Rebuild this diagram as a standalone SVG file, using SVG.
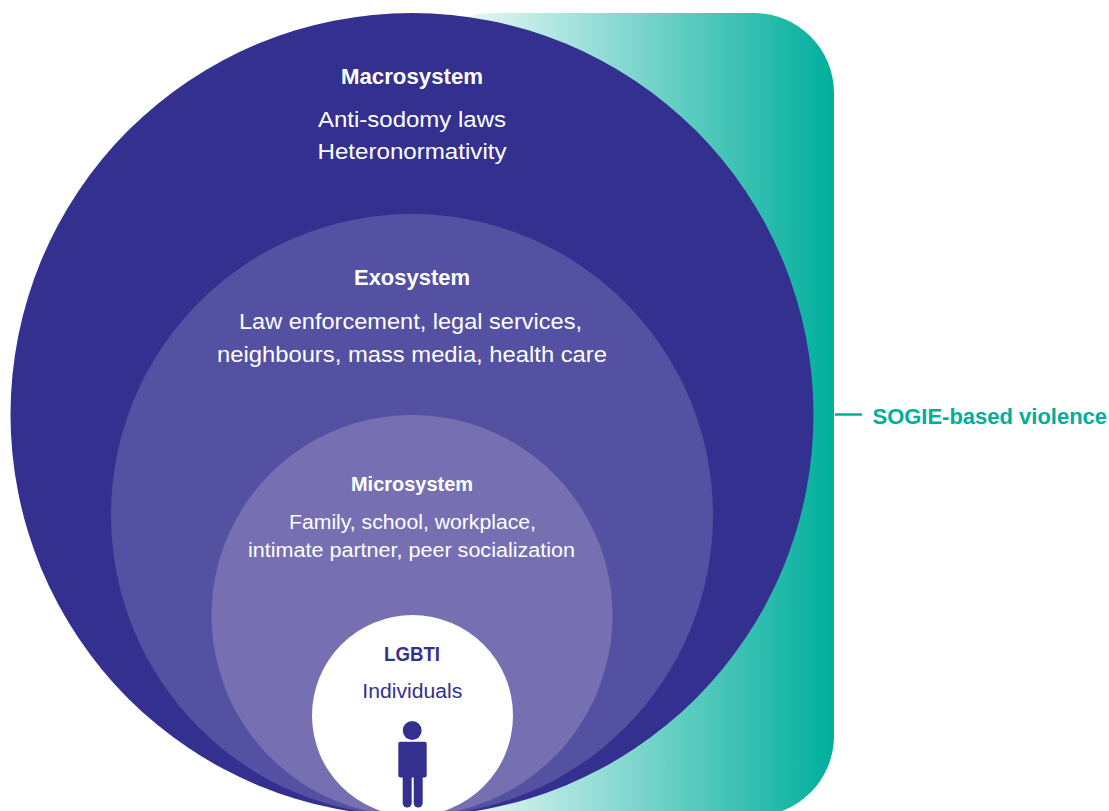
<svg xmlns="http://www.w3.org/2000/svg" width="1109" height="811" viewBox="0 0 1109 811">
  <defs>
    <linearGradient id="teal" gradientUnits="userSpaceOnUse" x1="430" y1="0" x2="834" y2="0">
      <stop offset="0" stop-color="#ffffff"/>
      <stop offset="1" stop-color="#00ae9c"/>
    </linearGradient>
  </defs>
  <style>
    .t { font-family: "Liberation Sans", Arial, sans-serif; text-anchor: middle; }
    .h { font-weight: bold; font-size: 22px; fill: #ffffff; }
    .b { font-size: 22px; fill: #ffffff; }
    .hs { font-weight: bold; font-size: 20px; fill: #ffffff; }
    .bs { font-size: 20px; fill: #ffffff; }
    .dark { fill: #33308f; }
  </style>
  <rect x="0" y="0" width="1109" height="811" fill="#ffffff"/>

  <g id="sogie-band">
    <rect x="412" y="13" width="422" height="803" rx="80" ry="80" fill="url(#teal)"/>
  </g>

  <g id="macrosystem">
    <circle cx="412" cy="414.5" r="401.5" fill="#33308f"/>
    <text class="t h" x="412" y="84" textLength="142" lengthAdjust="spacingAndGlyphs">Macrosystem</text>
    <text class="t b" x="412" y="127" textLength="188" lengthAdjust="spacingAndGlyphs">Anti-sodomy laws</text>
    <text class="t b" x="412" y="158.5" textLength="189" lengthAdjust="spacingAndGlyphs">Heteronormativity</text>
  </g>

  <g id="exosystem">
    <circle cx="412" cy="515" r="301" fill="#5450a2"/>
    <text class="t h" x="412" y="285" textLength="116" lengthAdjust="spacingAndGlyphs">Exosystem</text>
    <text class="t b" x="410.5" y="328.5" textLength="343" lengthAdjust="spacingAndGlyphs">Law enforcement, legal services,</text>
    <text class="t b" x="412" y="361.5" textLength="390" lengthAdjust="spacingAndGlyphs">neighbours, mass media, health care</text>
  </g>

  <g id="microsystem">
    <circle cx="412" cy="615.5" r="200.5" fill="#7670b3"/>
    <text class="t hs" x="412" y="491" textLength="122" lengthAdjust="spacingAndGlyphs">Microsystem</text>
    <text class="t bs" x="412.5" y="529" textLength="247" lengthAdjust="spacingAndGlyphs">Family, school, workplace,</text>
    <text class="t bs" x="411.5" y="556.5" textLength="327" lengthAdjust="spacingAndGlyphs">intimate partner, peer socialization</text>
  </g>

  <g id="lgbti-individuals">
    <circle cx="412.5" cy="715.5" r="100.5" fill="#ffffff"/>
    <text class="t hs dark" x="412" y="661" textLength="56" lengthAdjust="spacingAndGlyphs">LGBTI</text>
    <text class="t bs dark" x="412.3" y="697.5" textLength="100" lengthAdjust="spacingAndGlyphs">Individuals</text>
    <g id="person" fill="#33308f">
      <circle cx="412.2" cy="730.5" r="9.4"/>
      <rect x="398.3" y="741.7" width="28.4" height="35.8" rx="2" ry="2"/>
      <rect x="402.7" y="770" width="9" height="37.5" rx="4.5" ry="4.5"/>
      <rect x="413.7" y="770" width="9" height="37.5" rx="4.5" ry="4.5"/>
    </g>
  </g>

  <g id="connectors">
    <line x1="835" y1="414.5" x2="862" y2="414.5" stroke="#00ae9c" stroke-width="2.5"/>
  </g>

  <g id="sogie-label">
    <text x="872.5" y="424.3" font-family="Liberation Sans, Arial, sans-serif" font-weight="bold" font-size="22" fill="#00ae9c" textLength="234.5" lengthAdjust="spacingAndGlyphs">SOGIE-based violence</text>
  </g>
</svg>
